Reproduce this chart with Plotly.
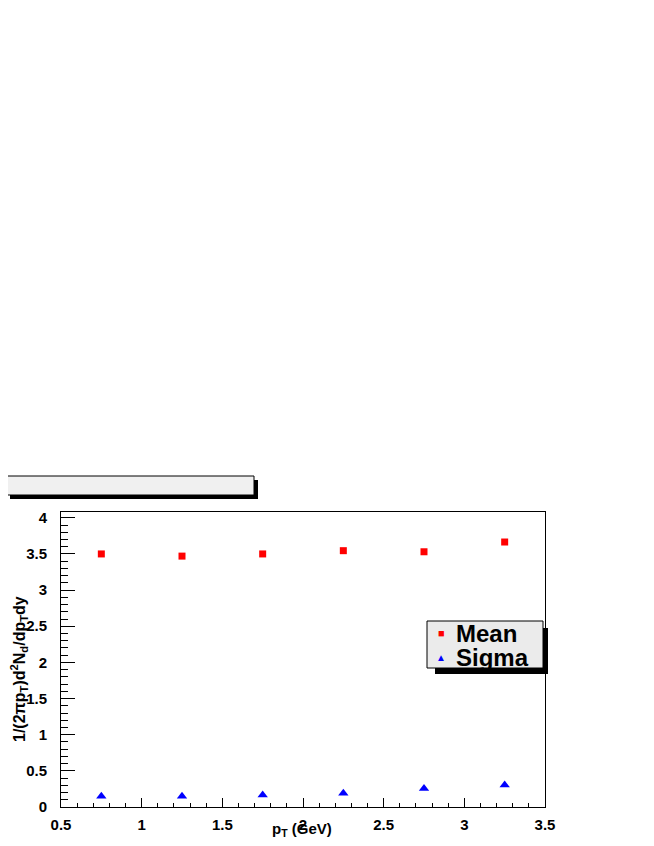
import plotly.graph_objects as go

# bin centres in pT (GeV)
pt_centres = [0.75, 1.25, 1.75, 2.25, 2.75, 3.25]

# fitted values per bin
mean_values = [3.50, 3.47, 3.50, 3.545, 3.53, 3.665]
sigma_values = [0.15, 0.15, 0.165, 0.19, 0.255, 0.305]

# the page body adds 8px of margin, so the figure is smaller and shifted
OFF = 8
W, H = 654 - 2 * OFF, 846 - 2 * OFF
# plot frame in screen pixels
L, R, T, B = 61, 545, 512, 807


def px(x):
    return (x - L) / (R - L)


def py(y):
    return (B - y) / (B - T)


font_b = "Liberation Sans"

fig = go.Figure()

fig.add_trace(
    go.Scatter(
        x=pt_centres,
        y=mean_values,
        mode='markers',
        marker=dict(symbol='square', color='#ff0000', size=7, line=dict(width=0)),
        name="Mean",
        showlegend=False
    )
)

fig.add_trace(
    go.Scatter(
        x=pt_centres,
        y=sigma_values,
        mode='markers',
        marker=dict(symbol='triangle-up', color='#0000ff', size=9, line=dict(width=0)),
        name="Sigma",
        showlegend=False
    )
)

shapes = [
    # title box shadow + box
    dict(type='rect', xref='paper', yref='paper',
         x0=px(10), x1=px(258), y0=py(499), y1=py(480),
         fillcolor='black', line=dict(width=0), layer='above'),
    dict(type='rect', xref='paper', yref='paper',
         x0=px(7), x1=px(254), y0=py(495), y1=py(476),
         fillcolor='#f0f0f0', line=dict(color='black', width=1), layer='above'),
    # legend shadow + box
    dict(type='rect', xref='paper', yref='paper',
         x0=px(435), x1=px(548), y0=py(674), y1=py(628),
         fillcolor='black', line=dict(width=0), layer='above'),
    dict(type='rect', xref='paper', yref='paper',
         x0=px(427), x1=px(543), y0=py(668), y1=py(621),
         fillcolor='#ebebeb', line=dict(color='black', width=1), layer='above'),
]


def note(text, x, y, size, color='black', xanchor='center', angle=0):
    return dict(text=text, x=px(x), y=py(y), xref='paper', yref='paper',
                xanchor=xanchor, yanchor='middle', textangle=angle,
                showarrow=False, font=dict(family=font_b, size=size, color=color))


annotations = [
    # legend entries
    note("■", 441, 633, 11, '#ff0000'),
    note("▲", 441, 657, 10, '#0000ff'),
    note("<b>Mean</b>", 454, 633, 24, xanchor='left'),
    note("<b>Sigma</b>", 454, 657, 24, xanchor='left'),
    # axis titles
    note("<b>p<sub>T</sub> (GeV)</b>", 302, 829, 15),
    note("<b>1/(2πp<sub>T</sub>)d<sup>2</sup>N<sub>d</sub>/dp<sub>T</sub>dy</b>",
         19, 669, 16, angle=-90),
]

fig.update_layout(
    width=W,
    height=H,
    margin=dict(l=L - OFF, r=W - (R - OFF), t=T - OFF, b=H - (B - OFF)),
    paper_bgcolor='white',
    plot_bgcolor='white',
    showlegend=False,
    shapes=shapes,
    annotations=annotations,
    font=dict(family=font_b, size=14, color='black'),
    xaxis=dict(
        range=[0.5, 3.5],
        dtick=0.5,
        tick0=0.5,
        ticks='inside',
        ticklen=9,
        tickcolor='black',
        showgrid=False,
        zeroline=False,
        showline=True,
        linecolor='black',
        linewidth=1,
        mirror=True,
        automargin=False,
        tickfont=dict(family=font_b, size=15, weight='bold'),
        ticklabelstandoff=4,
        minor=dict(dtick=0.1, ticks='inside', ticklen=4, tickcolor='black', showgrid=False)
    ),
    yaxis=dict(
        range=[0, 4.08],
        dtick=0.5,
        tick0=0,
        ticks='inside',
        ticklen=14,
        tickcolor='black',
        showgrid=False,
        zeroline=False,
        showline=True,
        linecolor='black',
        linewidth=1,
        mirror=True,
        automargin=False,
        tickfont=dict(family=font_b, size=15, weight='bold'),
        ticklabelstandoff=10,
        minor=dict(dtick=0.1, ticks='inside', ticklen=7, tickcolor='black', showgrid=False)
    )
)

fig.write_html("out.html")
